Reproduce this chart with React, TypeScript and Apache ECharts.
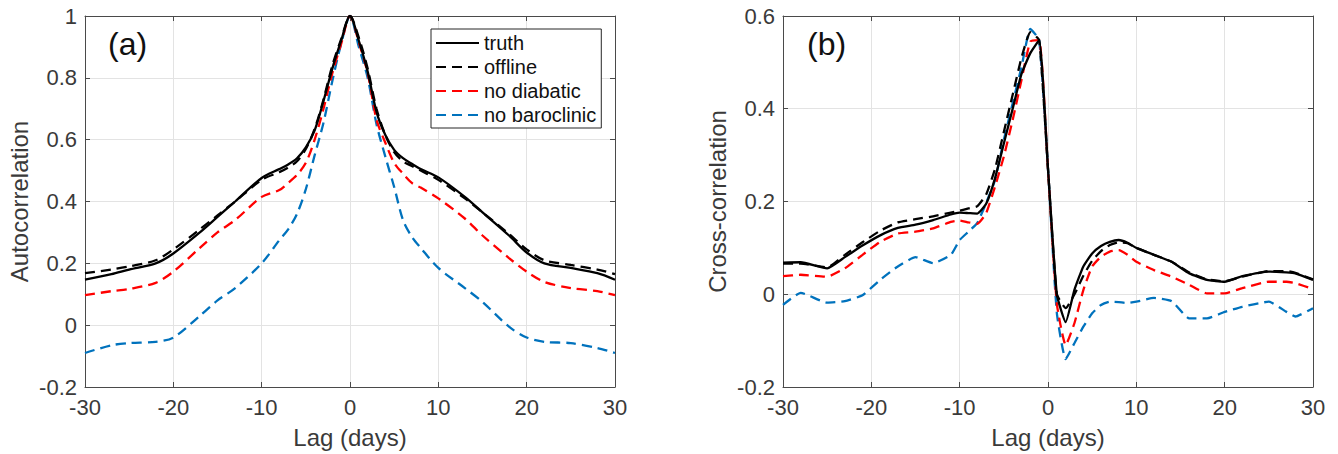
import React, { useEffect, useRef } from "react";
import * as echarts from "echarts";

// Lag axes (days)
const lagsA = [-30, -27, -25, -22, -20, -17, -15, -13, -10, -8, -7, -6, -5, -4, -3, -2, -1, 0, 1, 2, 3, 4, 5, 6, 7, 8, 10, 13, 15, 18, 20, 22, 25, 28, 30];
const lagsB = [-30, -28, -25, -23, -21, -19, -17, -15, -13, -11, -10, -9, -8, -7, -6, -5, -4, -3, -2, -1, 0, 1, 2, 3, 4, 5, 6, 7, 8, 9, 10, 12, 14, 16, 18, 20, 22, 25, 27, 28, 30];

// Panel (a): autocorrelation
const truthA = [0.147, 0.165, 0.18, 0.2, 0.232, 0.3, 0.35, 0.4, 0.476, 0.505, 0.52, 0.54, 0.575, 0.63, 0.725, 0.83, 0.92, 1.0, 0.92, 0.82, 0.69, 0.615, 0.567, 0.54, 0.522, 0.505, 0.478, 0.415, 0.365, 0.29, 0.235, 0.2, 0.185, 0.168, 0.147];
const offlineA = [0.168, 0.18, 0.19, 0.21, 0.245, 0.31, 0.355, 0.4, 0.47, 0.495, 0.51, 0.53, 0.57, 0.635, 0.73, 0.84, 0.925, 1.0, 0.93, 0.83, 0.7, 0.615, 0.56, 0.53, 0.515, 0.5, 0.47, 0.41, 0.365, 0.295, 0.245, 0.21, 0.195, 0.18, 0.165];
const noDiabaticA = [0.097, 0.11, 0.117, 0.137, 0.173, 0.25, 0.3, 0.34, 0.415, 0.437, 0.46, 0.486, 0.525, 0.6, 0.7, 0.815, 0.91, 1.0, 0.915, 0.815, 0.665, 0.59, 0.525, 0.49, 0.46, 0.445, 0.41, 0.345, 0.29, 0.217, 0.173, 0.14, 0.12, 0.11, 0.097];
const noBaroclinicA = [-0.09, -0.065, -0.058, -0.054, -0.04, 0.03, 0.08, 0.12, 0.2, 0.275, 0.31, 0.36, 0.44, 0.55, 0.655, 0.79, 0.91, 1.0, 0.9, 0.8, 0.65, 0.545, 0.447, 0.34, 0.286, 0.25, 0.185, 0.12, 0.075, -0.005, -0.04, -0.054, -0.058, -0.074, -0.09];

// Panel (b): cross-correlation
const truthB = [0.068, 0.069, 0.056, 0.08, 0.105, 0.127, 0.143, 0.15, 0.16, 0.172, 0.176, 0.175, 0.174, 0.195, 0.25, 0.325, 0.4, 0.475, 0.52, 0.548, 0.27, 0.0, -0.06, 0.01, 0.06, 0.088, 0.104, 0.113, 0.117, 0.111, 0.1, 0.085, 0.07, 0.045, 0.031, 0.027, 0.039, 0.049, 0.047, 0.045, 0.031];
const offlineB = [0.066, 0.066, 0.058, 0.085, 0.112, 0.137, 0.155, 0.162, 0.168, 0.176, 0.18, 0.185, 0.19, 0.215, 0.27, 0.35, 0.43, 0.51, 0.565, 0.548, 0.27, 0.0, -0.03, 0.0, 0.04, 0.072, 0.093, 0.106, 0.112, 0.11, 0.1, 0.085, 0.07, 0.047, 0.032, 0.028, 0.038, 0.05, 0.05, 0.046, 0.032];
const noDiabaticB = [0.039, 0.042, 0.038, 0.056, 0.085, 0.113, 0.131, 0.135, 0.142, 0.156, 0.159, 0.155, 0.152, 0.175, 0.232, 0.297, 0.376, 0.462, 0.545, 0.548, 0.27, -0.02, -0.11, -0.062, 0.009, 0.06, 0.081, 0.092, 0.095, 0.085, 0.07, 0.052, 0.038, 0.02, 0.002, 0.002, 0.013, 0.027, 0.027, 0.024, 0.011];
const noBaroclinicB = [-0.023, 0.003, -0.018, -0.015, -0.002, 0.031, 0.06, 0.08, 0.067, 0.085, 0.117, 0.135, 0.154, 0.197, 0.246, 0.333, 0.412, 0.49, 0.572, 0.548, 0.27, -0.04, -0.14, -0.105, -0.07, -0.041, -0.023, -0.016, -0.017, -0.019, -0.016, -0.008, -0.015, -0.052, -0.052, -0.038, -0.027, -0.016, -0.038, -0.048, -0.03];

const seriesNames = ["truth", "offline", "no diabatic", "no baroclinic"];
const seriesColors = ["#000000", "#000000", "#ff0000", "#0072bd"];

const FONT = "'Liberation Sans', Arial, Helvetica, sans-serif";
const AXIS_COLOR = "#4a4a4a";
const TEXT_COLOR = "#3a3a3a";

const fmt = (v: number) => {
  const r = Math.round(v * 10) / 10;
  return r === 0 ? "0" : String(r);
};

export default function App() {
  const ref = useRef<HTMLDivElement>(null);

  useEffect(() => {
    if (!ref.current) return;
    const chart = echarts.init(ref.current, undefined, { renderer: "svg" });

    const grids = [
      { left: 85, right: 723, top: 16, bottom: 67 },
      { left: 783, right: 25, top: 16, bottom: 67 },
    ];

    const yRanges = [
      { min: -0.2, max: 1, name: "Autocorrelation" },
      { min: -0.2, max: 0.6, name: "Cross-correlation" },
    ];

    const xAxes: any[] = [];
    const yAxes: any[] = [];
    grids.forEach((_, i) => {
      xAxes.push({
        type: "value",
        gridIndex: i,
        min: -30,
        max: 30,
        interval: 10,
        name: "Lag (days)",
        nameLocation: "middle",
        nameGap: 38,
        nameTextStyle: { fontSize: 24, color: TEXT_COLOR, fontFamily: FONT },
        axisLine: { show: true, onZero: false, lineStyle: { color: AXIS_COLOR, width: 1 } },
        axisTick: { show: true, inside: true, length: 5, lineStyle: { color: AXIS_COLOR } },
        axisLabel: { fontSize: 22, color: TEXT_COLOR, fontFamily: FONT, margin: 9 },
        splitLine: { show: true, lineStyle: { color: "#e3e3e3", width: 1 } },
      });
      xAxes.push({
        type: "value",
        gridIndex: i,
        position: "top",
        min: -30,
        max: 30,
        interval: 10,
        axisLine: { show: true, onZero: false, lineStyle: { color: AXIS_COLOR, width: 1 } },
        axisTick: { show: true, inside: true, length: 5, lineStyle: { color: AXIS_COLOR } },
        axisLabel: { show: false },
        splitLine: { show: false },
      });
      const yr = yRanges[i];
      yAxes.push({
        type: "value",
        gridIndex: i,
        min: yr.min,
        max: yr.max,
        interval: 0.2,
        name: yr.name,
        nameLocation: "middle",
        nameGap: 54,
        nameTextStyle: { fontSize: 24, color: TEXT_COLOR, fontFamily: FONT },
        axisLine: { show: true, onZero: false, lineStyle: { color: AXIS_COLOR, width: 1 } },
        axisTick: { show: true, inside: true, length: 5, lineStyle: { color: AXIS_COLOR } },
        axisLabel: { fontSize: 22, color: TEXT_COLOR, fontFamily: FONT, margin: 8, formatter: fmt },
        splitLine: { show: true, lineStyle: { color: "#e3e3e3", width: 1 } },
      });
      yAxes.push({
        type: "value",
        gridIndex: i,
        position: "right",
        min: yr.min,
        max: yr.max,
        interval: 0.2,
        axisLine: { show: true, onZero: false, lineStyle: { color: AXIS_COLOR, width: 1 } },
        axisTick: { show: true, inside: true, length: 5, lineStyle: { color: AXIS_COLOR } },
        axisLabel: { show: false },
        splitLine: { show: false },
      });
    });

    const panelData = [
      { lags: lagsA, values: [truthA, offlineA, noDiabaticA, noBaroclinicA], smooth: 0.3 },
      { lags: lagsB, values: [truthB, offlineB, noDiabaticB, noBaroclinicB], smooth: 0.15 },
    ];

    const series: any[] = [];
    panelData.forEach((p, gi) => {
      p.values.forEach((vals, si) => {
        series.push({
          type: "line",
          name: seriesNames[si],
          xAxisIndex: gi * 2,
          yAxisIndex: gi * 2,
          data: p.lags.map((l, k) => [l, vals[k]]),
          showSymbol: false,
          symbol: "none",
          smooth: p.smooth,
          z: 10 - si,
          lineStyle: {
            color: seriesColors[si],
            width: 2.3,
            type: si === 0 ? "solid" : [10, 6],
          },
          itemStyle: { color: seriesColors[si] },
        });
      });
    });

    chart.setOption({
      animation: false,
      backgroundColor: "#ffffff",
      grid: grids,
      xAxis: xAxes,
      yAxis: yAxes,
      series,
      legend: {
        data: seriesNames,
        orient: "vertical",
        left: 431,
        top: 29,
        padding: [4, 5, 3, 4],
        itemWidth: 43,
        itemHeight: 14,
        itemGap: 4,
        borderColor: "#262626",
        borderWidth: 1,
        borderRadius: 0,
        backgroundColor: "#ffffff",
        itemStyle: { opacity: 0, borderWidth: 0 },
        textStyle: { fontSize: 20, color: "#111", fontFamily: FONT },
      },
      graphic: [
        {
          type: "text",
          left: 108,
          top: 28,
          style: { text: "(a)", fontSize: 32, fill: "#111", fontFamily: FONT },
        },
        {
          type: "text",
          left: 807,
          top: 28,
          style: { text: "(b)", fontSize: 32, fill: "#111", fontFamily: FONT },
        },
      ],
    });

    return () => chart.dispose();
  }, []);

  return (
    <div
      ref={ref}
      style={{ position: "fixed", left: 0, top: 0, width: 1338, height: 454 }}
    />
  );
}
